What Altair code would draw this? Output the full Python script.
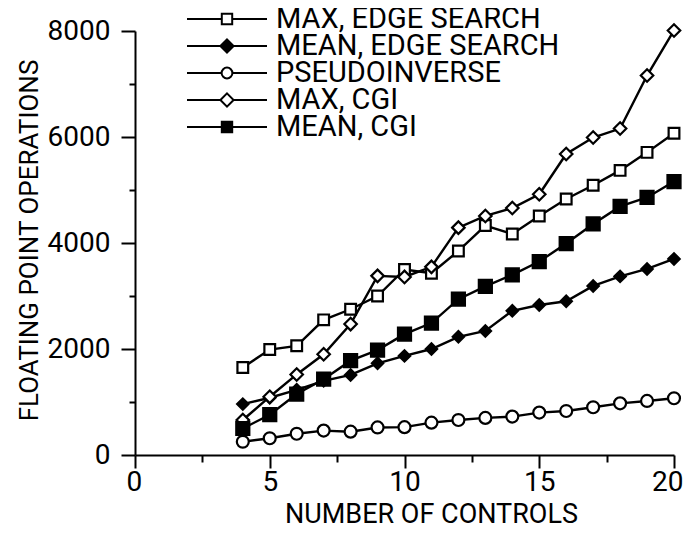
import altair as alt
import pandas as pd

# ---- data ----
controls = [4, 5, 6, 7, 8, 9, 10, 11, 12, 13, 14, 15, 16, 17, 18, 19, 20]
max_edge_search = [1650, 1990, 2060, 2550, 2750, 3000, 3500, 3430, 3850, 4330, 4170, 4510, 4830, 5090, 5370, 5710, 6070]
mean_edge_search = [960, 1080, 1230, 1400, 1510, 1730, 1870, 2000, 2230, 2340, 2720, 2830, 2900, 3190, 3370, 3510, 3700]
pseudoinverse = [250, 315, 400, 460, 440, 520, 525, 610, 660, 700, 725, 800, 830, 900, 975, 1020, 1070]
max_cgi = [660, 1100, 1520, 1900, 2470, 3380, 3360, 3550, 4290, 4510, 4660, 4920, 5680, 5990, 6160, 7160, 8010]
mean_cgi = [500, 760, 1150, 1430, 1780, 1980, 2280, 2490, 2940, 3180, 3400, 3650, 3990, 4360, 4690, 4860, 5160]

series_names = ["MAX, EDGE SEARCH", "MEAN, EDGE SEARCH", "PSEUDOINVERSE", "MAX, CGI", "MEAN, CGI"]
series_values = [max_edge_search, mean_edge_search, pseudoinverse, max_cgi, mean_cgi]

x_ticks = [0, 2.5, 5, 7.5, 10, 12.5, 15, 17.5, 20]
y_ticks = [0, 1000, 2000, 3000, 4000, 5000, 6000, 7000, 8000]

# ---- styles ----
series_shapes = ["square", "diamond", "circle", "diamond", "square"]
series_fills = ["white", "black", "white", "white", "black"]
series_sizes = [115, 170, 125, 150, 135]

# legend symbols: a line with the marker in its middle (unit box -1..1)
marker_paths = {
    "square": "M-0.13,-0.13H0.13V0.13H-0.13Z",
    "diamond": "M0,-0.165L0.165,0L0,0.165L-0.165,0Z",
    "circle": "M-0.135,0A0.135,0.135,0,1,1,0.135,0A0.135,0.135,0,1,1,-0.135,0Z",
}
marker_half = {"square": 0.13, "diamond": 0.165, "circle": 0.135}
legend_paths = [
    f"M-1,0H-{marker_half[s]}M{marker_half[s]},0H1" + marker_paths[s] for s in series_shapes
]
legend_strokes = ["black"] * len(series_names)

rows = []
for name, vals in zip(series_names, series_values):
    for c, v in zip(controls, vals):
        rows.append({"controls": c, "flops": v, "series": name})
df = pd.DataFrame(rows)

FONT = "Roboto, Liberation Sans, Arial, sans-serif"

x = alt.X(
    "controls:Q",
    scale=alt.Scale(domain=[0, 20], nice=False, zero=False),
    axis=alt.Axis(
        values=x_ticks,
        title="NUMBER OF CONTROLS",
        labelExpr="datum.value % 5 === 0 ? format(datum.value, 'd') : ''",
        tickSize={"condition": {"test": "datum.value % 5 === 0", "value": 13}, "value": 7},
        labelPadding=0,
        labelFlush=10,
        labelFlushOffset=9,
        labelOverlap=False,
        labelFontSize=28,
        titleFontSize=27,
        titleX=296,
        titleY=46,
        titleBaseline="top",
        titleAlign="center",
    ),
)
y = alt.Y(
    "flops:Q",
    scale=alt.Scale(domain=[0, 8000], nice=False),
    axis=alt.Axis(
        values=y_ticks,
        title="FLOATING POINT OPERATIONS",
        labelExpr="datum.value % 2000 === 0 ? format(datum.value, 'd') : ''",
        tickSize={"condition": {"test": "datum.value % 2000 === 0", "value": 14}, "value": 6},
        labelPadding=11,
        labelFlush=False,
        labelOverlap=False,
        labelFontSize=28,
        titleFontSize=26,
        titleX=-98,
        titleY=209,
        titleAlign="center",
        titleBaseline="alphabetic",
        titleAngle=270,
    ),
)

legend = alt.Legend(
    title=None,
    orient="none",
    legendX=51,
    legendY=-24,
    symbolSize=6400,
    symbolStrokeColor="black",
    symbolStrokeWidth=2,
    symbolOpacity=1,
    clipHeight=24,
    labelFont=FONT,
    labelFontSize=29,
    labelColor="black",
    labelOffset=8,
    labelLimit=0,
    rowPadding=-6,
    padding=0,
)

lines = alt.Chart(df).mark_line(color="black", strokeWidth=2.4).encode(
    x=x, y=y, detail="series:N"
)
points = alt.Chart(df).mark_point(opacity=1, strokeWidth=2.2, stroke="black").encode(
    x=x,
    y=y,
    shape=alt.Shape("series:N", scale=alt.Scale(domain=series_names, range=series_shapes), legend=None),
    fill=alt.Fill("series:N", scale=alt.Scale(domain=series_names, range=series_fills), legend=None),
    size=alt.Size("series:N", scale=alt.Scale(domain=series_names, range=series_sizes), legend=None),
)
# invisible layer that only carries the legend (line + marker symbols)
legend_layer = alt.Chart(df).mark_point(opacity=0).encode(
    x=x,
    y=y,
    shape=alt.Shape("series:N", scale=alt.Scale(domain=series_names, range=legend_paths), legend=legend),
    fill=alt.Fill("series:N", scale=alt.Scale(domain=series_names, range=series_fills), legend=legend),
    stroke=alt.Stroke("series:N", scale=alt.Scale(domain=series_names, range=legend_strokes), legend=legend),
)

chart = (
    alt.layer(lines, points, legend_layer)
    .resolve_scale(shape="independent", fill="independent", stroke="independent")
    .properties(
        width=539,
        height=424,
        autosize="none",
        padding={"left": 127, "top": 23, "right": 10, "bottom": 76},
    )
    .configure_view(stroke="transparent")
    .configure_axis(
        domainColor="black",
        domainWidth=2,
        tickColor="black",
        tickWidth=2,
        grid=False,
        labelColor="black",
        titleColor="black",
        labelFont=FONT,
        titleFont=FONT,
        titleFontWeight="normal",
        labelFontWeight="normal",
    )
)

chart.save("out.html", embed_options={"renderer": "svg", "actions": False})
